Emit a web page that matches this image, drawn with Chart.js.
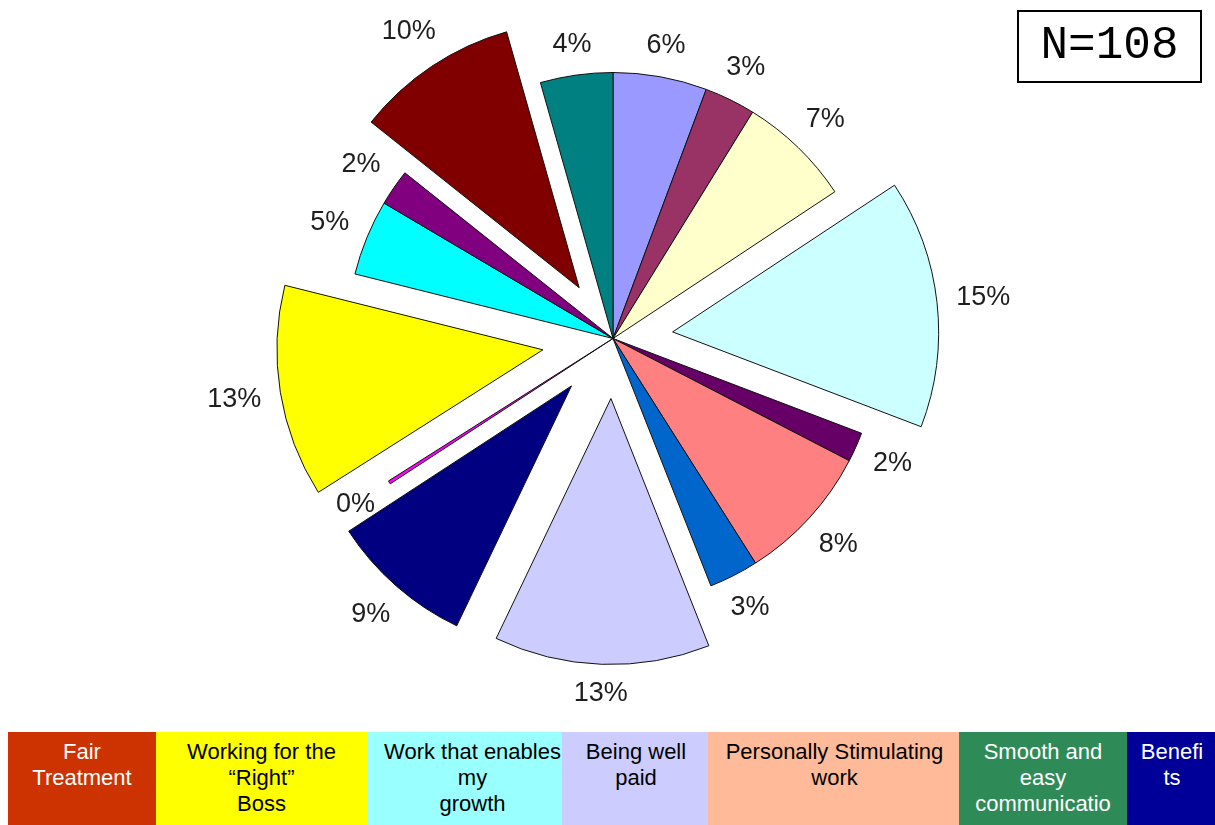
<!DOCTYPE html>
<html>
<head>
<meta charset="utf-8">
<title>What matters most at work</title>
<script src="https://cdn.jsdelivr.net/npm/chart.js@4.4.1/dist/chart.umd.min.js"></script>
<style>
  html, body { margin: 0; padding: 0; background: #fff; }
  #stage { position: relative; width: 1215px; height: 825px; overflow: hidden; }
  #pie { position: absolute; left: 0; top: 0; }
  #nbox {
    position: absolute; left: 1017px; top: 10px; width: 185px; height: 73px;
    box-sizing: border-box; border: 2px solid #000;
    font-family: "Liberation Mono", "Courier New", monospace; font-size: 46px;
    line-height: 69px; text-align: center; color: #000;
  }
  #legend { position: absolute; left: 0; top: 732px; width: 1215px; height: 93px; }
  .cell {
    position: absolute; top: 0; height: 93px; overflow: hidden; box-sizing: border-box;
    padding-top: 7px; text-align: center;
    font-family: "Liberation Sans", Arial, sans-serif; font-size: 22px; line-height: 26px;
  }
  .cell div { position: relative; white-space: pre; }
</style>
</head>
<body>
<div id="stage">
  <canvas id="pie" width="1215" height="732"></canvas>
  <div id="nbox">N=108</div>
  <div id="legend"></div>
</div>
<script>
// Share of respondents per answer, clockwise from 12 o'clock (percent)
const sliceValues = [5.7, 3.1, 6.9, 15.1, 1.8, 8.4, 3.0, 13.1, 8.7, 0.2, 12.9, 4.6, 2.2, 9.9, 4.4];
const sliceLabels = sliceValues.map(v => Math.round(v) + '%');
const sliceColors = ['#9999FF', '#993366', '#FFFFCC', '#CCFFFF', '#660066', '#FF8080', '#0066CC',
                     '#CCCCFF', '#000080', '#FF00FF', '#FFFF00', '#00FFFF', '#800080', '#800000', '#008080'];
// How far each slice is pulled out of the pie, in pixels
const sliceShift = [0, 0, 0, 60, 0, 0, 0, 60, 63, 0, 71, 0, 0, 61, 0];

// Category key shown under the pie
const legendNames = ['Fair\nTreatment', 'Working for the\n\u201CRight\u201D\nBoss', 'Work that enables\nmy\ngrowth',
                     'Being well\npaid', 'Personally Stimulating\nwork', 'Smooth and\neasy\ncommunicatio', 'Benefi\nts'];
const legendColors = ['#CC3300', '#FFFF00', '#99FFFF', '#CCCCFF', '#FFBB99', '#2E8B57', '#000099'];
const legendInk = ['#FFFFFF', '#000000', '#000000', '#000000', '#000000', '#FFFFFF', '#FFFFFF'];
const legendEdges = [8, 156, 367, 562, 708, 959, 1127, 1215];
const legendNudge = [0, 0, 8, 1, 1, 0, 1];

// Draws the arcs pulled out along their middle angle, then the percent labels outside them
const explodedPie = {
  id: 'explodedPie',
  beforeDatasetDraw(chart, args) {
    const ctx = chart.ctx;
    args.meta.data.forEach((arc, i) => {
      const mid = (arc.startAngle + arc.endAngle) / 2;
      const d = sliceShift[i] || 0;
      ctx.save();
      ctx.translate(Math.cos(mid) * d, Math.sin(mid) * d);
      arc.draw(ctx, chart.chartArea);
      ctx.restore();
    });
    return false;
  },
  afterDatasetsDraw(chart) {
    const ctx = chart.ctx;
    const meta = chart.getDatasetMeta(0);
    ctx.save();
    ctx.font = '27px "Liberation Sans", Arial, sans-serif';
    ctx.fillStyle = '#1e1e1e';
    ctx.textAlign = 'center';
    ctx.textBaseline = 'middle';
    meta.data.forEach((arc, i) => {
      const mid = (arc.startAngle + arc.endAngle) / 2;
      const ux = Math.cos(mid), uy = Math.sin(mid);
      const text = chart.data.labels[i];
      const hw = ctx.measureText(text).width / 2;
      const hh = 9.7;
      const r = arc.outerRadius + (sliceShift[i] || 0) + 18.5 + hw * Math.abs(ux) + hh * Math.abs(uy);
      ctx.fillText(text, arc.x + ux * r, arc.y + uy * r);
    });
    ctx.restore();
  }
};

new Chart(document.getElementById('pie'), {
  type: 'pie',
  data: {
    labels: sliceLabels,
    datasets: [{
      data: sliceValues,
      backgroundColor: sliceColors,
      borderColor: '#111111',
      borderWidth: 1,
      hoverOffset: 0
    }]
  },
  options: {
    responsive: false,
    animation: false,
    events: [],
    radius: 266,
    layout: { padding: { left: 11, right: 0, top: 0, bottom: 55 } },
    plugins: { legend: { display: false }, tooltip: { enabled: false } }
  },
  plugins: [explodedPie]
});

const legend = document.getElementById('legend');
legendNames.forEach((name, i) => {
  const cell = document.createElement('div');
  cell.className = 'cell';
  cell.style.left = legendEdges[i] + 'px';
  cell.style.width = (legendEdges[i + 1] - legendEdges[i]) + 'px';
  cell.style.background = legendColors[i];
  cell.style.color = legendInk[i];
  const inner = document.createElement('div');
  inner.style.left = legendNudge[i] + 'px';
  inner.textContent = name;
  cell.appendChild(inner);
  legend.appendChild(cell);
});
</script>
</body>
</html>
